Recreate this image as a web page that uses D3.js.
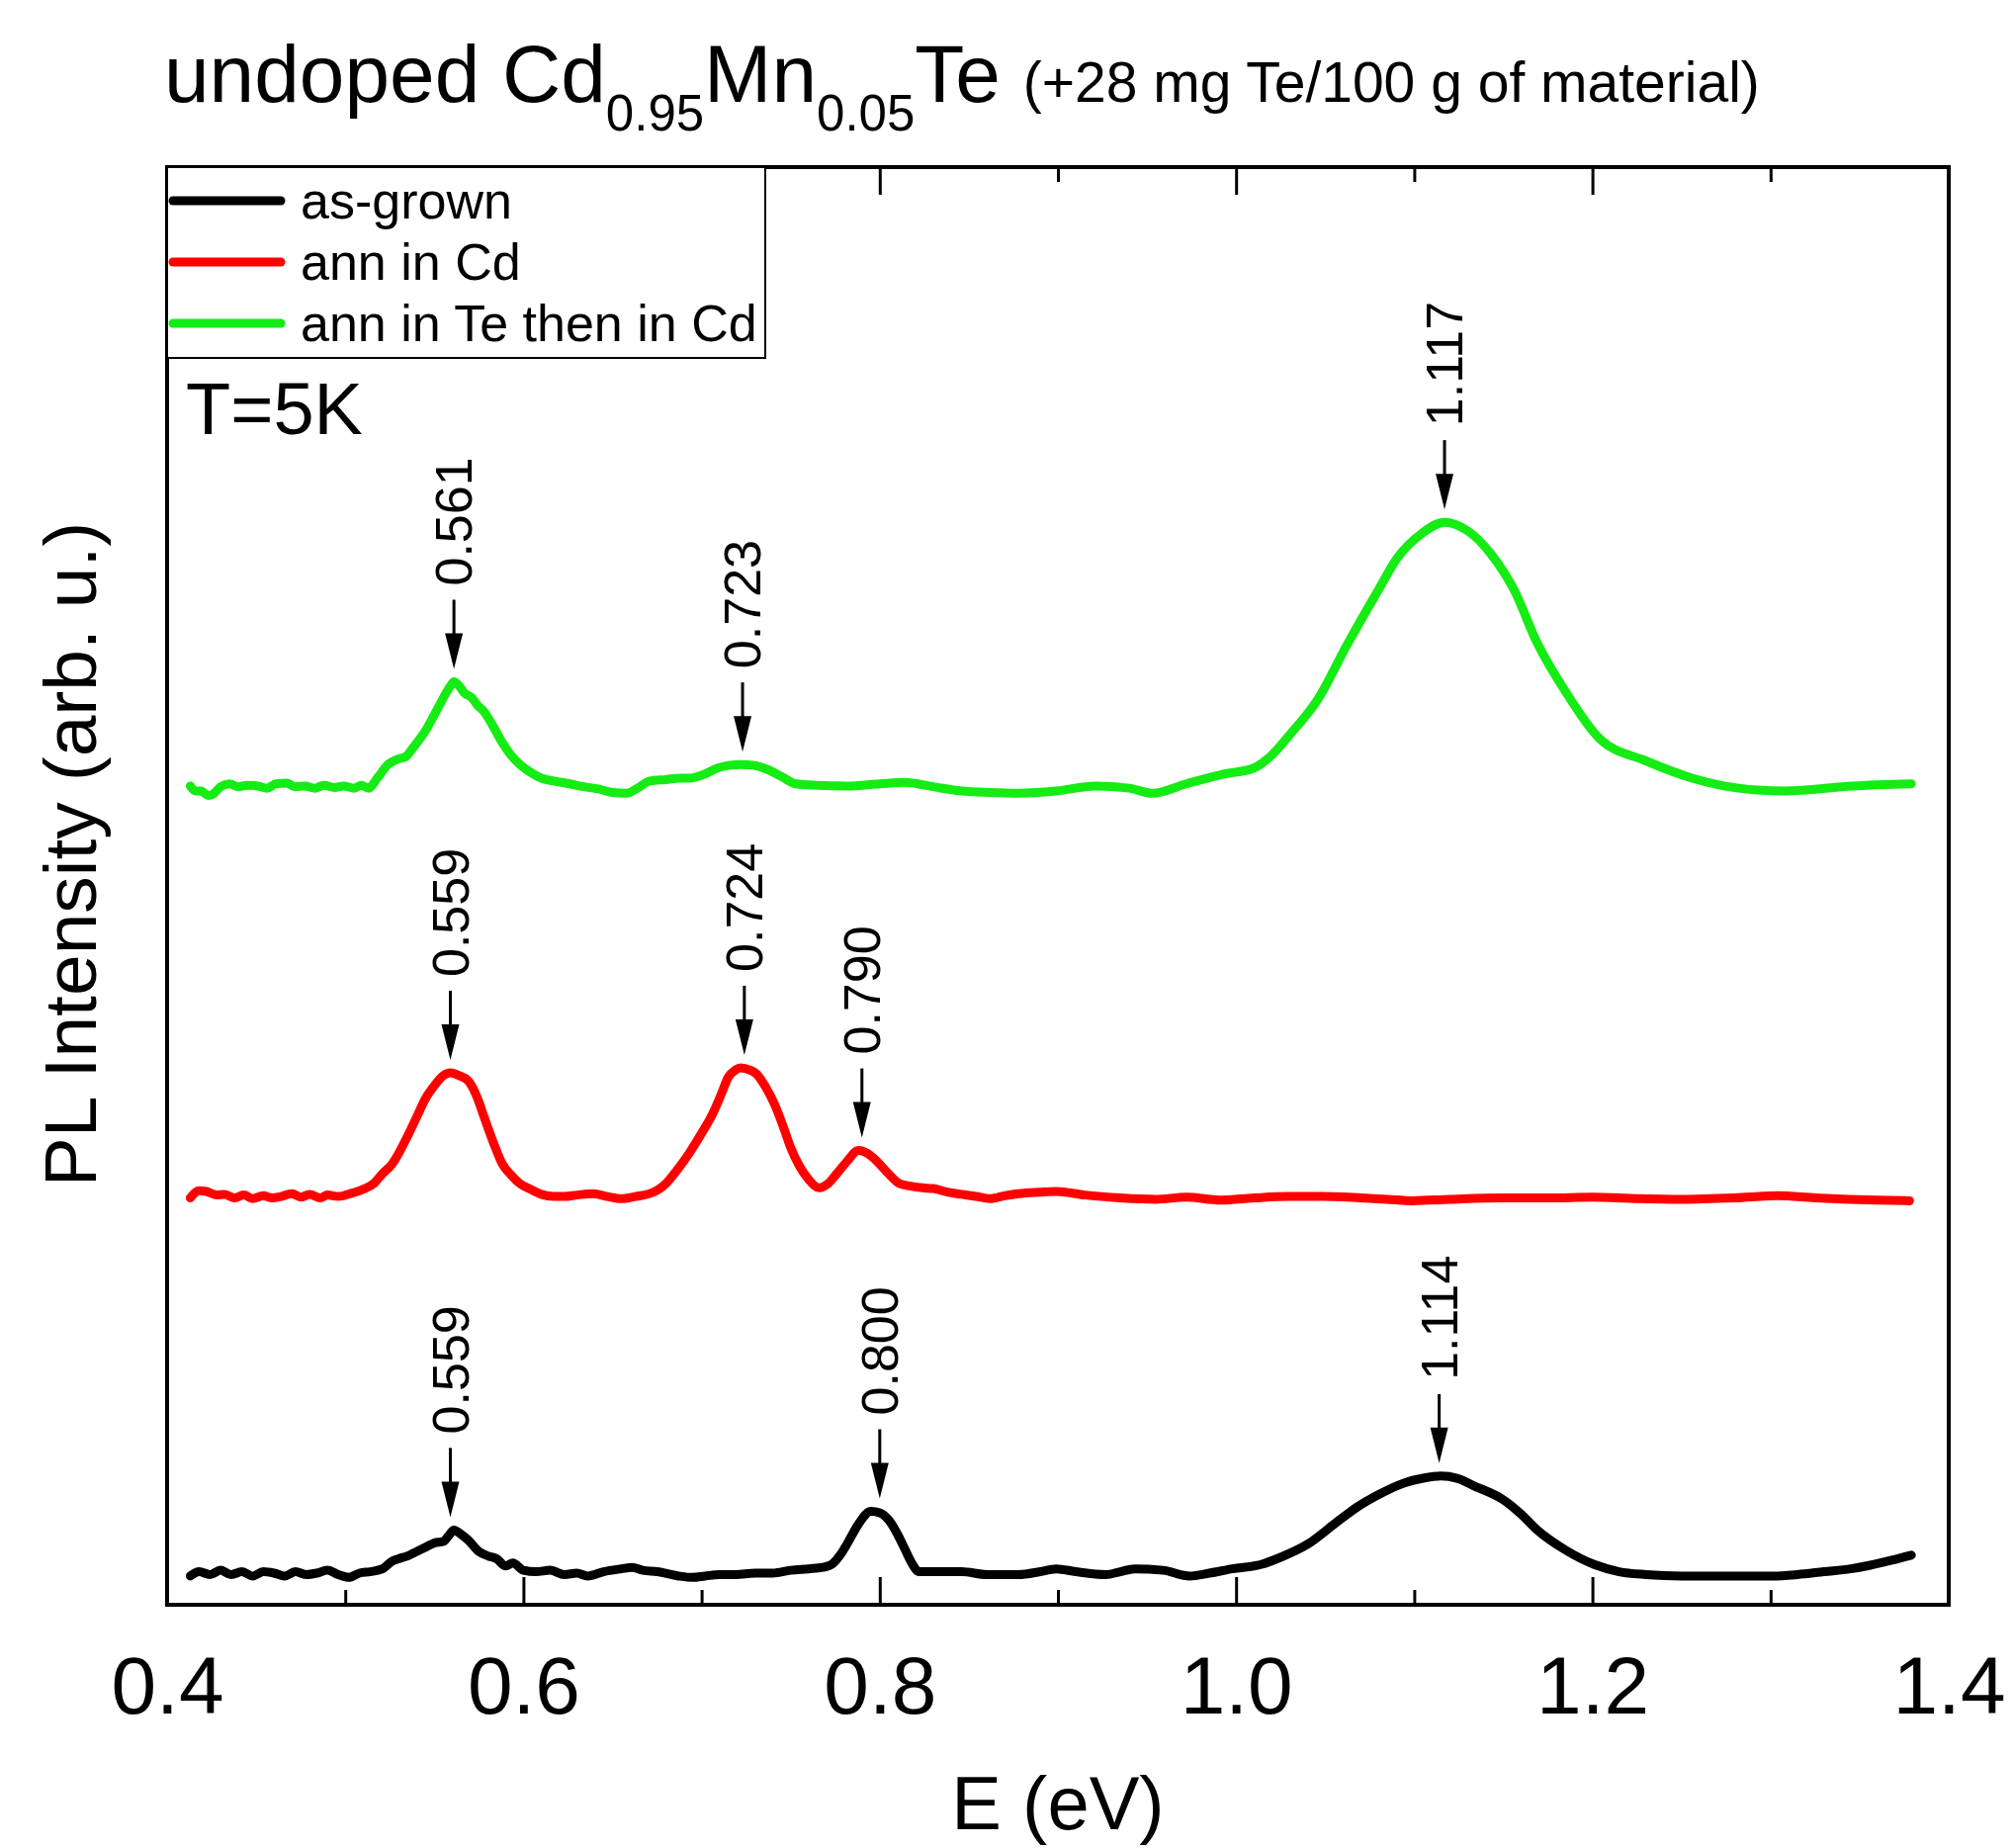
<!DOCTYPE html>
<html>
<head>
<meta charset="utf-8">
<script src="https://cdn.jsdelivr.net/npm/d3@7"></script>
<style>
    body { margin: 0; background: #fff; }
    svg { display: block; font-family: 'Liberation Sans', Arial, sans-serif; }
</style>
</head>
<body>
<svg id="chart" width="2036" height="1869"></svg>
<script>
'use strict';

// PL spectra at T=5K, curves already shifted vertically as in the figure
const asGrownE = [0.413, 0.418, 0.424, 0.430, 0.436, 0.442, 0.448, 0.454, 0.460, 0.466, 0.472, 0.478, 0.484, 0.490, 0.496, 0.502, 0.508, 0.514, 0.521, 0.526, 0.530, 0.535, 0.540, 0.545, 0.550, 0.555, 0.558, 0.561, 0.565, 0.569, 0.575, 0.580, 0.585, 0.590, 0.594, 0.600, 0.607, 0.615, 0.623, 0.630, 0.636, 0.645, 0.655, 0.661, 0.667, 0.675, 0.687, 0.695, 0.702, 0.710, 0.719, 0.730, 0.740, 0.750, 0.760, 0.768, 0.773, 0.778, 0.782, 0.788, 0.795, 0.800, 0.805, 0.810, 0.814, 0.818, 0.822, 0.830, 0.846, 0.860, 0.878, 0.890, 0.899, 0.910, 0.927, 0.935, 0.943, 0.959, 0.974, 0.985, 0.998, 1.014, 1.025, 1.040, 1.056, 1.068, 1.079, 1.095, 1.105, 1.115, 1.124, 1.133, 1.150, 1.160, 1.169, 1.185, 1.201, 1.215, 1.230, 1.250, 1.266, 1.285, 1.301, 1.315, 1.330, 1.345, 1.356, 1.368, 1.379];
const asGrownI = [2.0, 2.3, 2.1, 2.4, 2.1, 2.3, 2.0, 2.3, 2.2, 2.0, 2.3, 2.1, 2.2, 2.4, 2.1, 1.9, 2.2, 2.3, 2.5, 3.0, 3.2, 3.4, 3.7, 4.0, 4.3, 4.4, 4.8, 5.2, 4.9, 4.5, 3.7, 3.4, 3.2, 2.7, 2.9, 2.4, 2.3, 2.4, 2.1, 2.2, 2.0, 2.3, 2.5, 2.6, 2.4, 2.3, 2.0, 1.9, 2.0, 2.1, 2.1, 2.2, 2.2, 2.4, 2.5, 2.6, 2.8, 3.5, 4.3, 5.6, 6.5, 6.4, 5.9, 4.9, 3.9, 2.9, 2.3, 2.3, 2.3, 2.1, 2.1, 2.3, 2.5, 2.3, 2.1, 2.3, 2.5, 2.4, 2.0, 2.2, 2.5, 2.8, 3.3, 4.2, 5.7, 6.8, 7.6, 8.5, 8.8, 8.95, 8.8, 8.3, 7.3, 6.3, 5.2, 3.8, 2.8, 2.3, 2.1, 2.0, 2.0, 2.0, 2.0, 2.1, 2.3, 2.5, 2.75, 3.1, 3.45];

const annCdE = [0.413, 0.418, 0.422, 0.428, 0.432, 0.438, 0.443, 0.448, 0.454, 0.459, 0.464, 0.470, 0.475, 0.480, 0.486, 0.490, 0.496, 0.503, 0.510, 0.516, 0.521, 0.526, 0.530, 0.535, 0.540, 0.545, 0.550, 0.555, 0.559, 0.564, 0.569, 0.574, 0.578, 0.583, 0.588, 0.593, 0.598, 0.604, 0.610, 0.617, 0.623, 0.630, 0.639, 0.647, 0.655, 0.663, 0.671, 0.676, 0.680, 0.686, 0.693, 0.700, 0.706, 0.711, 0.715, 0.719, 0.722, 0.727, 0.731, 0.736, 0.741, 0.746, 0.750, 0.755, 0.760, 0.766, 0.771, 0.776, 0.782, 0.788, 0.793, 0.798, 0.804, 0.811, 0.818, 0.824, 0.830, 0.838, 0.846, 0.854, 0.862, 0.870, 0.878, 0.890, 0.899, 0.915, 0.935, 0.955, 0.972, 0.991, 1.010, 1.030, 1.048, 1.070, 1.085, 1.099, 1.120, 1.149, 1.175, 1.200, 1.225, 1.250, 1.280, 1.304, 1.325, 1.344, 1.360, 1.378];
const annCdI = [28.3, 28.8, 28.75, 28.5, 28.55, 28.3, 28.5, 28.25, 28.45, 28.3, 28.4, 28.6, 28.35, 28.55, 28.3, 28.5, 28.4, 28.6, 28.9, 29.3, 30.0, 30.6, 31.4, 32.6, 33.9, 35.2, 36.1, 36.8, 37.0, 36.8, 36.45, 35.3, 33.9, 32.2, 30.7, 29.9, 29.3, 28.9, 28.55, 28.4, 28.4, 28.5, 28.6, 28.4, 28.25, 28.4, 28.6, 28.9, 29.3, 30.2, 31.4, 32.8, 34.1, 35.5, 36.7, 37.2, 37.35, 37.2, 36.9, 36.0, 34.8, 33.2, 31.8, 30.5, 29.6, 29.0, 29.3, 30.0, 30.9, 31.6, 31.4, 30.9, 30.1, 29.3, 29.1, 29.0, 28.95, 28.7, 28.55, 28.4, 28.25, 28.45, 28.6, 28.7, 28.75, 28.5, 28.3, 28.2, 28.35, 28.15, 28.3, 28.4, 28.4, 28.3, 28.2, 28.1, 28.2, 28.3, 28.3, 28.35, 28.25, 28.2, 28.3, 28.45, 28.3, 28.2, 28.15, 28.1];

const annTeCdE = [0.413, 0.416, 0.419, 0.423, 0.426, 0.430, 0.435, 0.440, 0.445, 0.451, 0.456, 0.461, 0.467, 0.472, 0.477, 0.483, 0.488, 0.494, 0.499, 0.505, 0.509, 0.513, 0.518, 0.524, 0.529, 0.534, 0.538, 0.542, 0.546, 0.550, 0.553, 0.556, 0.559, 0.561, 0.564, 0.567, 0.571, 0.574, 0.578, 0.583, 0.588, 0.593, 0.598, 0.604, 0.610, 0.617, 0.626, 0.634, 0.642, 0.650, 0.658, 0.664, 0.671, 0.680, 0.688, 0.693, 0.700, 0.709, 0.716, 0.722, 0.729, 0.737, 0.745, 0.753, 0.765, 0.782, 0.800, 0.814, 0.830, 0.846, 0.862, 0.878, 0.899, 0.921, 0.940, 0.953, 0.972, 0.992, 1.010, 1.020, 1.030, 1.046, 1.062, 1.079, 1.091, 1.104, 1.117, 1.130, 1.143, 1.156, 1.169, 1.185, 1.204, 1.230, 1.256, 1.282, 1.308, 1.346, 1.379];
const annTeCdI = [56.95, 56.6, 56.6, 56.3, 56.4, 56.9, 57.1, 56.9, 57.0, 56.95, 56.8, 57.1, 57.15, 56.9, 56.95, 56.8, 57.0, 56.85, 56.95, 56.8, 57.0, 56.8, 57.5, 58.45, 58.8, 59.0, 59.6, 60.25, 61.0, 61.9, 62.6, 63.3, 63.9, 64.2, 63.9, 63.4, 63.1, 62.6, 62.1, 61.1, 60.0, 59.1, 58.45, 57.9, 57.5, 57.3, 57.1, 56.9, 56.75, 56.5, 56.45, 56.8, 57.3, 57.4, 57.5, 57.5, 57.7, 58.2, 58.4, 58.45, 58.4, 58.1, 57.6, 57.1, 57.0, 56.95, 57.1, 57.2, 56.9, 56.6, 56.5, 56.45, 56.6, 56.95, 56.8, 56.45, 57.1, 57.75, 58.2, 59.1, 60.5, 63.0, 66.7, 70.4, 72.9, 74.5, 75.3, 74.7, 73.1, 70.6, 66.9, 63.5, 60.25, 58.7, 57.5, 56.8, 56.6, 56.95, 57.1];

const seriesNames = ['as-grown', 'ann in Cd', 'ann in Te then in Cd'];
const seriesColors = ['#000000', '#ff0000', '#14ec14'];

// peak markers: which curve (index into seriesNames) and the printed energy
const peakSeries = [0, 0, 0, 1, 1, 1, 2, 2, 2];
const peakLabels = ['0.559', '0.800', '1.114', '0.559', '0.724', '0.790', '0.561', '0.723', '1.117'];

const majorTicks = [0.4, 0.6, 0.8, 1.0, 1.2, 1.4];
const minorTicks = [0.5, 0.7, 0.9, 1.1, 1.3];

const svg = d3.select('#chart');
const padding = { top: 169, right: 65, bottom: 246, left: 169 };
const chartSize = {
    width: +svg.attr('width') - padding.left - padding.right,
    height: +svg.attr('height') - padding.top - padding.bottom
};

const x = d3.scaleLinear().domain([0.4, 1.4]).range([padding.left, padding.left + chartSize.width]);
const y = d3.scaleLinear().domain([0, 100]).range([padding.top + chartSize.height, padding.top]);

const series = [
    { e: asGrownE, i: asGrownI },
    { e: annCdE, i: annCdI },
    { e: annTeCdE, i: annTeCdI }
].map((s, k) => ({
    name: seriesNames[k],
    color: seriesColors[k],
    points: s.e.map((e, j) => ({ e: e, v: s.i[j] }))
}));

function drawAxes() {
    const bottom = padding.top + chartSize.height;

    const xAxis = svg.append('g')
        .attr('transform', 'translate(0,' + bottom + ')')
        .call(d3.axisBottom(x).tickValues(majorTicks).tickSize(-28).tickFormat(d3.format('.1f')));
    xAxis.selectAll('.tick text')
        .attr('y', 110)
        .attr('dy', null)
        .style('font-size', '82px')
        .style('font-family', "'Liberation Sans', Arial, sans-serif")
        .attr('fill', '#000');

    const xMinor = svg.append('g')
        .attr('transform', 'translate(0,' + bottom + ')')
        .call(d3.axisBottom(x).tickValues(minorTicks).tickSize(-15).tickFormat(''));

    const xTop = svg.append('g')
        .attr('transform', 'translate(0,' + padding.top + ')')
        .call(d3.axisTop(x).tickValues(majorTicks).tickSize(-28).tickFormat(''));

    const xTopMinor = svg.append('g')
        .attr('transform', 'translate(0,' + padding.top + ')')
        .call(d3.axisTop(x).tickValues(minorTicks).tickSize(-15).tickFormat(''));

    [xAxis, xMinor, xTop, xTopMinor].forEach(g => {
        g.select('.domain').remove();
        g.selectAll('.tick line').attr('stroke', '#000').attr('stroke-width', 3);
    });

    svg.append('rect')
        .attr('x', padding.left)
        .attr('y', padding.top)
        .attr('width', chartSize.width)
        .attr('height', chartSize.height)
        .attr('fill', 'none')
        .attr('stroke', '#000')
        .attr('stroke-width', 4);

    svg.append('text')
        .attr('x', padding.left + chartSize.width / 2)
        .attr('y', 1850)
        .attr('text-anchor', 'middle')
        .style('font-size', '76px')
        .text('E (eV)');

    svg.append('text')
        .attr('transform', 'translate(97,864) rotate(-90)')
        .attr('text-anchor', 'middle')
        .style('font-size', '75px')
        .text('PL Intensity (arb. u.)');
}

function drawCurves() {
    const line = d3.line()
        .curve(d3.curveMonotoneX)
        .x(d => x(d.e))
        .y(d => y(d.v));

    svg.append('g')
        .selectAll('path')
        .data(series)
        .enter()
        .append('path')
        .attr('d', s => line(s.points))
        .attr('fill', 'none')
        .attr('stroke', s => s.color)
        .attr('stroke-width', 9)
        .attr('stroke-linejoin', 'round')
        .attr('stroke-linecap', 'round');
}

function drawPeaks() {
    const peaks = peakLabels.map((label, k) => {
        const e = +label;
        const pts = series[peakSeries[k]].points.filter(p => Math.abs(p.e - e) < 0.012);
        return { label: label, e: e, top: d3.max(pts, p => p.v) };
    });

    const g = svg.append('g').selectAll('g')
        .data(peaks)
        .enter()
        .append('g')
        .attr('transform', d => 'translate(' + x(d.e) + ',' + (y(d.top) - 13) + ')');

    g.append('line')
        .attr('x1', 0).attr('x2', 0)
        .attr('y1', -70).attr('y2', -34)
        .attr('stroke', '#000')
        .attr('stroke-width', 3);

    g.append('path')
        .attr('d', 'M-9,-36L9,-36L0,0Z')
        .attr('fill', '#000');

    g.append('text')
        .attr('transform', 'translate(0,-84) rotate(-90)')
        .attr('dominant-baseline', 'central')
        .style('font-size', '52px')
        .text(d => d.label);
}

function drawLegend() {
    const box = svg.append('g');
    box.append('rect')
        .attr('x', padding.left)
        .attr('y', padding.top)
        .attr('width', 605)
        .attr('height', 193)
        .attr('fill', '#fff')
        .attr('stroke', '#000')
        .attr('stroke-width', 2);

    const rows = box.selectAll('g.row')
        .data(series)
        .enter()
        .append('g')
        .attr('class', 'row')
        .attr('transform', (d, k) => 'translate(0,' + (203 + k * 62) + ')');

    rows.append('line')
        .attr('x1', 175).attr('x2', 284)
        .attr('stroke', d => d.color)
        .attr('stroke-width', 9)
        .attr('stroke-linecap', 'round');

    rows.append('text')
        .attr('x', 304)
        .attr('y', 18)
        .style('font-size', '52px')
        .text(d => d.name);

    svg.append('text')
        .attr('x', 188)
        .attr('y', 439)
        .style('font-size', '74px')
        .text('T=5K');
}

function drawTitle() {
    const t = svg.append('text')
        .attr('x', 166)
        .attr('y', 103)
        .style('font-size', '82px');
    t.append('tspan').text('undoped Cd');
    t.append('tspan').attr('dy', 29).style('font-size', '51px').text('0.95');
    t.append('tspan').attr('dy', -29).text('Mn');
    t.append('tspan').attr('dy', 29).style('font-size', '51px').text('0.05');
    t.append('tspan').attr('dy', -29).text('Te ');
    t.append('tspan').style('font-size', '57px').text('(+28 mg Te/100 g of material)');
}

drawAxes();
drawCurves();
drawPeaks();
drawLegend();
drawTitle();
</script>
</body>
</html>
